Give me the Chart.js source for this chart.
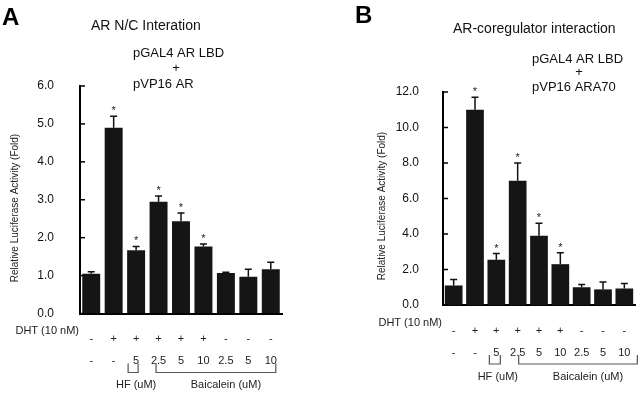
<!DOCTYPE html>
<html>
<head>
<meta charset="utf-8">
<script src="https://cdn.jsdelivr.net/npm/chart.js@4.4.0/dist/chart.umd.min.js"></script>
<style>
  body { margin: 0; background: #fff; }
  #contenedor { position: relative; width: 640px; height: 395px; }
  canvas { position: absolute; top: 0; }
</style>
</head>
<body>
<div id="contenedor">
  <canvas id="graficoNC" width="320" height="395" style="left:0"></canvas>
  <canvas id="graficoCoreg" width="320" height="395" style="left:320px"></canvas>
</div>
<script>
// Datos
const tratamientoDHT = ['-', '+', '+', '+', '+', '+', '-', '-', '-'];
const concentracion = ['-', '-', '5', '2.5', '5', '10', '2.5', '5', '10'];

// Panel A: interacción N/C
const valoresNC = [1.05, 4.9, 1.67, 2.95, 2.43, 1.77, 1.07, 0.97, 1.17];
const erroresNC = [0.05, 0.3, 0.1, 0.15, 0.22, 0.06, 0.02, 0.2, 0.18];

// Panel B: interacción con correguladores
const valoresCoreg = [1.1, 11.0, 2.55, 7.0, 3.9, 2.3, 1.0, 0.88, 0.93];
const erroresCoreg = [0.33, 0.7, 0.35, 1.0, 0.7, 0.65, 0.15, 0.42, 0.28];

// barras marcadas con asterisco
const significativos = [false, true, true, true, true, true, false, false, false];

const etiquetasX = tratamientoDHT.map((s, i) => [s, concentracion[i]]);
const FUENTE = "'Liberation Sans', Arial, sans-serif";

Chart.defaults.font.family = FUENTE;
Chart.defaults.color = '#1a1a1a';

// Plugin para las barras de error y asteriscos
const pluginBarrasError = {
    id: 'barrasError',
    afterDatasetsDraw(chart, args, opts) {
        const c = chart.ctx;
        const escalaY = chart.scales.y;
        const meta = chart.getDatasetMeta(0);
        const valores = chart.data.datasets[0].data;
        c.save();
        c.strokeStyle = '#111';
        c.lineWidth = 1.5;
        c.fillStyle = '#222';
        c.font = '11px ' + FUENTE;
        c.textAlign = 'center';
        c.textBaseline = 'alphabetic';
        meta.data.forEach((barra, i) => {
            const arriba = escalaY.getPixelForValue(valores[i] + opts.errores[i]);
            c.beginPath();
            c.moveTo(barra.x, barra.y);
            c.lineTo(barra.x, arriba);
            c.moveTo(barra.x - 3.5, arriba);
            c.lineTo(barra.x + 3.5, arriba);
            c.stroke();
            if (opts.marcas[i]) {
                c.fillText('*', barra.x, arriba - 2);
            }
        });
        c.restore();
    }
};

// Plugin para textos, marcas internas del eje y corchetes
const pluginDecoraciones = {
    id: 'decoraciones',
    afterDraw(chart, args, o) {
        const c = chart.ctx;
        const area = chart.chartArea;
        const escalaX = chart.scales.x;
        const escalaY = chart.scales.y;
        c.save();

        // letra del panel
        c.fillStyle = '#000';
        c.font = 'bold 24px ' + FUENTE;
        c.textAlign = 'left';
        c.textBaseline = 'alphabetic';
        c.fillText(o.letra.texto, o.letra.x, o.letra.y);

        // título
        c.fillStyle = '#111';
        c.font = '14px ' + FUENTE;
        c.fillText(o.titulo.texto, o.titulo.x, o.titulo.y);

        // construcciones
        c.font = '13px ' + FUENTE;
        c.fillText(o.construccion.linea1, o.construccion.x, o.construccion.y1);
        c.fillText(o.construccion.linea2, o.construccion.x, o.construccion.y2);
        c.textAlign = 'center';
        c.fillText('+', o.construccion.xMas, o.construccion.yMas);

        // título del eje y
        c.save();
        c.translate(o.ejeY.x, o.ejeY.y);
        c.rotate(-Math.PI / 2);
        c.font = '10px ' + FUENTE;
        c.fillStyle = '#222';
        c.textBaseline = 'middle';
        c.fillText('Relative Luciferase Activity (Fold)', 0, 0);
        c.restore();

        // marcas del eje y hacia adentro
        c.strokeStyle = '#000';
        c.lineWidth = 1.5;
        escalaY.ticks.forEach(t => {
            const y = escalaY.getPixelForValue(t.value);
            c.beginPath();
            c.moveTo(area.left, y);
            c.lineTo(area.left + 5, y);
            c.stroke();
        });

        // etiqueta DHT
        c.fillStyle = '#222';
        c.font = '11px ' + FUENTE;
        c.textAlign = 'right';
        c.textBaseline = 'middle';
        c.fillText('DHT (10 nM)', area.left - 1, area.bottom + 17.5);

        // corchetes
        c.strokeStyle = '#5e5549';
        c.lineWidth = 1.2;
        c.textAlign = 'center';
        o.corchetes.forEach(k => {
            const x1 = escalaX.getPixelForValue(k.desde) + k.izq;
            const x2 = escalaX.getPixelForValue(k.hasta) + k.der;
            const yA = area.bottom + 50;
            const yB = area.bottom + 59;
            c.beginPath();
            c.moveTo(x1, yA);
            c.lineTo(x1, yB);
            c.lineTo(x2, yB);
            c.lineTo(x2, yA);
            c.stroke();
            c.fillText(k.texto, (x1 + x2) / 2 + k.dx, area.bottom + 71.5);
        });
        c.restore();
    }
};

function crearGrafico(idCanvas, valores, errores, yMax, paso, disp) {
    const ctx = document.getElementById(idCanvas).getContext('2d');
    return new Chart(ctx, {
        type: 'bar',
        data: {
            labels: etiquetasX,
            datasets: [{
                data: valores,
                backgroundColor: '#151515',
                borderWidth: 0,
                barPercentage: disp.anchoBarra,
                categoryPercentage: 1.0
            }]
        },
        options: {
            responsive: false,
            animation: false,
            layout: { padding: { top: disp.arriba, right: disp.derecha, bottom: 0, left: 0 } },
            scales: {
                x: {
                    grid: { display: false },
                    border: { display: true, color: '#000', width: 2 },
                    ticks: {
                        autoSkip: false,
                        maxRotation: 0,
                        padding: 6.5,
                        color: '#222',
                        font: { size: 11, lineHeight: '22px' }
                    },
                    afterFit: s => { s.height = disp.altoX; }
                },
                y: {
                    min: 0,
                    max: yMax,
                    grid: { display: false },
                    border: { display: true, color: '#000', width: 2 },
                    ticks: {
                        stepSize: paso,
                        padding: disp.sepTicks,
                        color: '#111',
                        font: { size: 12 },
                        callback: v => v.toFixed(1)
                    },
                    afterFit: s => { s.width = disp.anchoY; }
                }
            },
            plugins: {
                legend: { display: false },
                tooltip: { enabled: false },
                barrasError: { errores: errores, marcas: significativos },
                decoraciones: disp.deco
            }
        },
        plugins: [pluginBarrasError, pluginDecoraciones]
    });
}

document.addEventListener('DOMContentLoaded', function () {
    crearGrafico('graficoNC', valoresNC, erroresNC, 6, 1, {
        arriba: 86, derecha: 38, altoX: 81.5, anchoY: 80, sepTicks: 18, anchoBarra: 0.8,
        deco: {
            letra: { texto: 'A', x: 2, y: 25 },
            titulo: { texto: 'AR N/C Interation', x: 91, y: 30 },
            construccion: { linea1: 'pGAL4 AR LBD', linea2: 'pVP16 AR', x: 133, y1: 57, y2: 88, xMas: 176, yMas: 72 },
            ejeY: { x: 15, y: 208 },
            corchetes: [
                { desde: 2, hasta: 2, izq: -8, der: 2, texto: 'HF (uM)', dx: 3 },
                { desde: 3, hasta: 8, izq: -2.5, der: 5, texto: 'Baicalein (uM)', dx: 10 }
            ]
        }
    });

    crearGrafico('graficoCoreg', valoresCoreg, erroresCoreg, 12, 2, {
        arriba: 92, derecha: 5, altoX: 90, anchoY: 123, sepTicks: 16, anchoBarra: 0.83,
        deco: {
            letra: { texto: 'B', x: 35, y: 23 },
            titulo: { texto: 'AR-coregulator interaction', x: 133, y: 33 },
            construccion: { linea1: 'pGAL4 AR LBD', linea2: 'pVP16 ARA70', x: 212, y1: 63, y2: 91, xMas: 259, yMas: 76 },
            ejeY: { x: 62, y: 206 },
            corchetes: [
                { desde: 2, hasta: 2, izq: -7, der: 4, texto: 'HF (uM)', dx: 3 },
                { desde: 3, hasta: 8, izq: 1, der: 13, texto: 'Baicalein (uM)', dx: 10 }
            ]
        }
    });
});
</script>
</body>
</html>
